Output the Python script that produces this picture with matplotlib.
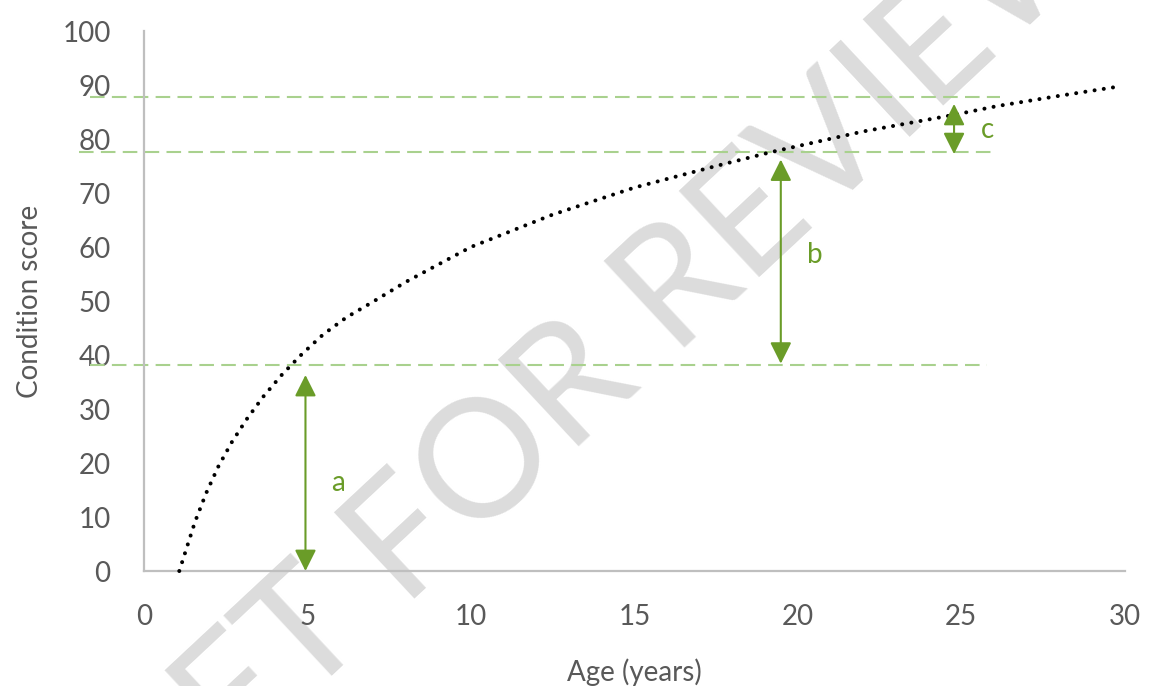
import matplotlib
matplotlib.use("Agg")
import matplotlib.pyplot as plt

# ---- data ----
age = [1.08, 1.56, 1.9, 2.27, 2.68, 3.14, 3.65, 4.24, 4.82, 5.48, 6.2, 6.96,
       8.0, 10.0, 12.5, 15.0, 17.5, 19.2, 22.0, 24.8, 26.1, 28.0, 29.8]
score = [0.0, 9.1, 14.4, 19.3, 23.8, 28.1, 32.3, 36.5, 40.1, 43.8, 47.0, 49.7,
         53.5, 60.0, 66.0, 71.0, 75.0, 77.6, 81.4, 84.5, 86.1, 88.0, 89.7]

threshold_levels = [87.7, 77.6, 38.2]
threshold_start = [-1.65, -2.0, -1.65]
threshold_end = [26.2, 25.9, 25.8]

arrow_age = [4.94, 19.48, 24.78]
arrow_low = [0.0, 38.4, 77.2]
arrow_high = [36.3, 76.2, 86.5]
arrow_names = ["a", "b", "c"]
name_age = [5.93, 20.52, 25.8]
name_score = [16.3, 58.5, 81.7]

x_ticks = [0, 5, 10, 15, 20, 25, 30]
y_ticks = [0, 10, 20, 30, 40, 50, 60, 70, 80, 90, 100]

watermark_text = "DRAFT FOR REVIEW"

# ---- styling ----
FONT = ["Lato", "DejaVu Sans"]
plt.rcParams["font.family"] = FONT
TEXT_GREY = "#595959"
AXIS_GREY = "#BFBFBF"
LIGHT_GREEN = "#A9D18E"
DARK_GREEN = "#6A9C28"

fig = plt.figure(figsize=(11.5, 6.86), dpi=100)
ax = fig.add_axes([0.1252, 0.1676, 0.978 - 0.1252, 0.9548 - 0.1676])
ax.set_facecolor("none")

# watermark (behind the chart)
fig.text(0.4565, 0.37, watermark_text, family="Lato", weight="normal",
         fontsize=118, color="#DCDCDC", rotation=43, rotation_mode="anchor",
         ha="center", va="center", zorder=-5)

# threshold dashed lines
for lvl, xs, xe in zip(threshold_levels, threshold_start, threshold_end):
    ax.plot([xs, xe], [lvl, lvl], color=LIGHT_GREEN, lw=1.5,
            linestyle=(0, (7, 3.5)), clip_on=False, zorder=2)

# dotted curve
ax.plot(age, score, color="black", lw=2.9, linestyle=(0, (0.01, 2.3)),
        dash_capstyle="round", zorder=4, clip_on=False)

# double arrows
for xa, lo, hi in zip(arrow_age, arrow_low, arrow_high):
    ax.annotate("", xy=(xa, hi), xytext=(xa, lo),
                arrowprops=dict(arrowstyle="<|-|>,head_length=1.3,head_width=0.65",
                                mutation_scale=10, shrinkA=0, shrinkB=0,
                                lw=1.5, color=DARK_GREEN),
                zorder=5)

for name, xn, yn in zip(arrow_names, name_age, name_score):
    ax.text(xn, yn, name, color=DARK_GREEN, fontsize=20, ha="center",
            va="center", zorder=5)

ax.set_xlim(0, 30)
ax.set_ylim(0, 100)
ax.set_xticks(x_ticks)
ax.set_yticks(y_ticks)
ax.tick_params(axis="both", length=0, labelsize=20, labelcolor=TEXT_GREY)
ax.tick_params(axis="y", pad=24)
ax.tick_params(axis="x", pad=24)

for side in ["top", "right"]:
    ax.spines[side].set_visible(False)
for side in ["left", "bottom"]:
    ax.spines[side].set_color(AXIS_GREY)
    ax.spines[side].set_linewidth(1.6)

ax.set_xlabel("Age (years)", fontsize=20, color=TEXT_GREY, labelpad=20)
ax.set_ylabel("Condition score", fontsize=20, color=TEXT_GREY, labelpad=14)

fig.savefig("out.png", dpi=100)
